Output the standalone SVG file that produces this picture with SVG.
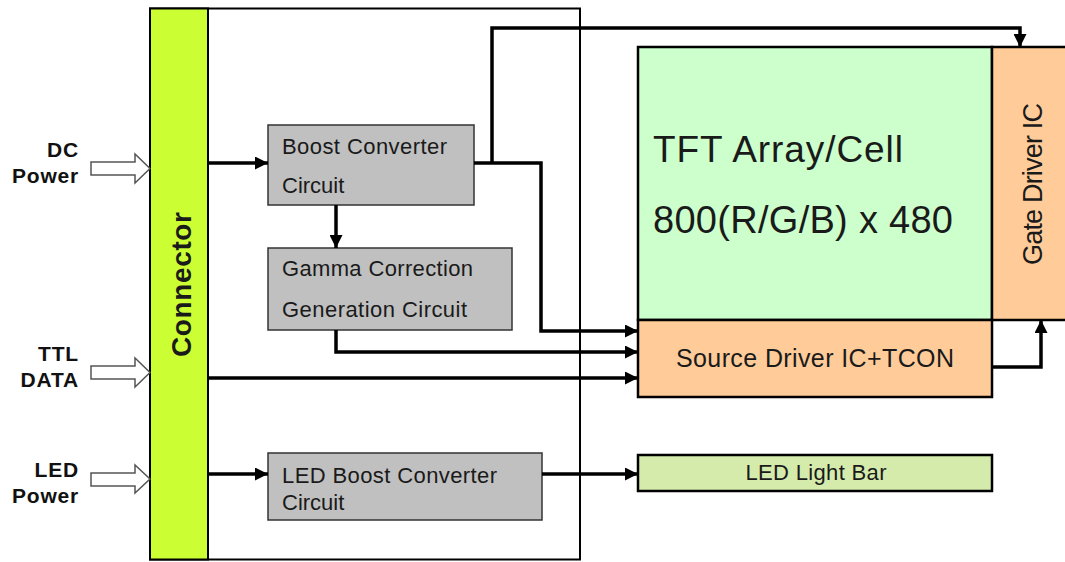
<svg xmlns="http://www.w3.org/2000/svg" width="1065" height="562" viewBox="0 0 1065 562">
<defs>
<style>
.lbl{font-family:"Liberation Sans",Arial,sans-serif;font-weight:bold;font-size:21px;fill:#111;letter-spacing:0.8px}
.t{font-family:"Liberation Sans",Arial,sans-serif;fill:#1a1a1a}
.gray{fill:#C0C0C0;stroke:#333;stroke-width:1.5}
.wire{fill:none;stroke:#000;stroke-width:3.5;stroke-linejoin:miter}
.blk{fill:#fff;stroke:#555;stroke-width:1.5}
</style>
<marker id="ah" markerUnits="userSpaceOnUse" markerWidth="14" markerHeight="13" refX="13" refY="6.5" orient="auto">
<path d="M0,0 L13,6.5 L0,13 Z" fill="#000"/>
</marker>
</defs>
<rect width="1065" height="562" fill="#fff"/>

<g id="outer">
<rect x="150" y="8.5" width="430" height="551" fill="none" stroke="#000" stroke-width="2"/>
</g>

<g id="connector">
<rect x="150" y="8.5" width="58" height="551" fill="#CCFF33" stroke="#000" stroke-width="2"/>
<text class="t" transform="translate(191,284.5) rotate(-90)" text-anchor="middle" font-size="28" font-weight="bold" fill="#000" textLength="145">Connector</text>
</g>

<g id="in-dc">
<text class="lbl" x="79" y="157" text-anchor="end">DC</text>
<text class="lbl" x="79" y="183" text-anchor="end">Power</text>
<polygon class="blk" points="91,162 135,162 135,154 150,168.5 135,183 135,175 91,175"/>
</g>
<g id="in-ttl">
<text class="lbl" x="79" y="361" text-anchor="end">TTL</text>
<text class="lbl" x="79" y="387" text-anchor="end">DATA</text>
<polygon class="blk" points="91,366 135,366 135,358 150,372.5 135,387 135,379 91,379"/>
</g>
<g id="in-led">
<text class="lbl" x="79" y="477" text-anchor="end">LED</text>
<text class="lbl" x="79" y="503" text-anchor="end">Power</text>
<polygon class="blk" points="91,473 135,473 135,465 150,479 135,493 135,486 91,486"/>
</g>

<g id="boost">
<rect class="gray" x="268" y="125" width="206" height="80"/>
<text class="t" x="282" y="154" font-size="22" textLength="165">Boost Converter</text>
<text class="t" x="282" y="193" font-size="22">Circuit</text>
</g>

<g id="gamma">
<rect class="gray" x="268" y="248" width="244" height="82"/>
<text class="t" x="282" y="276" font-size="22" textLength="191">Gamma Correction</text>
<text class="t" x="282" y="317" font-size="22" textLength="185">Generation Circuit</text>
</g>

<g id="ledboost">
<rect class="gray" x="268" y="453" width="274" height="67"/>
<text class="t" x="282" y="483" font-size="22" textLength="215">LED Boost Converter</text>
<text class="t" x="282" y="510" font-size="22">Circuit</text>
</g>

<g id="tft">
<rect x="638" y="47" width="354" height="273" fill="#CCFFCC" stroke="#000" stroke-width="2.5"/>
<text class="t" x="653" y="162" font-size="37" fill="#000" textLength="250">TFT Array/Cell</text>
<text class="t" x="653" y="233" font-size="38" fill="#000" textLength="300">800(R/G/B) x 480</text>
</g>

<g id="gate">
<rect x="992" y="47" width="80" height="273" fill="#FFCC99" stroke="#000" stroke-width="2.5"/>
<text class="t" transform="translate(1042,184) rotate(-90)" text-anchor="middle" font-size="27" textLength="162">Gate Driver IC</text>
</g>

<g id="source">
<rect x="638" y="320" width="354" height="77" fill="#FFCC99" stroke="#000" stroke-width="2.5"/>
<text class="t" x="815" y="367" text-anchor="middle" font-size="25" textLength="278">Source Driver IC+TCON</text>
</g>

<g id="lightbar">
<rect x="638" y="455" width="354" height="36" fill="#D4EBAC" stroke="#000" stroke-width="2.5"/>
<text class="t" x="816" y="480" text-anchor="middle" font-size="22" textLength="141">LED Light Bar</text>
</g>

<g id="connectors">
<path class="wire" d="M208,163 H268" marker-end="url(#ah)"/>
<path class="wire" d="M336,205 V248" marker-end="url(#ah)"/>
<path class="wire" d="M474,163 H541 V331 H638" marker-end="url(#ah)"/>
<path class="wire" d="M492,163 V28 H1020 V47" marker-end="url(#ah)"/>
<path class="wire" d="M336,330 V352 H638" marker-end="url(#ah)"/>
<path class="wire" d="M208,378 H638" marker-end="url(#ah)"/>
<path class="wire" d="M208,474 H268" marker-end="url(#ah)"/>
<path class="wire" d="M542,474 H638" marker-end="url(#ah)"/>
<path class="wire" d="M992,367 H1041 V320" marker-end="url(#ah)"/>
</g>
</svg>
